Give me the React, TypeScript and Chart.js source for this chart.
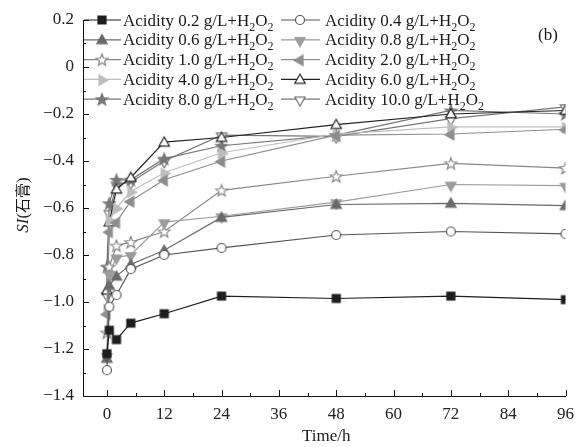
import React, { useEffect, useRef } from "react";
import { Chart, registerables } from "chart.js";

Chart.register(...registerables);

const timePoints = [0, 0.5, 2, 5, 12, 24, 48, 72, 96];
const xTickValues = [0, 12, 24, 36, 48, 60, 72, 84, 96];
const yTickValues = [0.2, 0, -0.2, -0.4, -0.6, -0.8, -1.0, -1.2, -1.4];

const acidity02 = [-1.22, -1.12, -1.16, -1.09, -1.05, -0.975, -0.985, -0.975, -0.99];
const acidity04 = [-1.29, -1.02, -0.97, -0.86, -0.8, -0.77, -0.715, -0.7, -0.71];
const acidity06 = [-1.24, -0.93, -0.89, -0.84, -0.78, -0.64, -0.585, -0.58, -0.59];
const acidity08 = [-1.23, -0.88, -0.81, -0.8, -0.66, -0.635, -0.575, -0.5, -0.505];
const acidity10 = [-1.13, -0.85, -0.76, -0.745, -0.7, -0.525, -0.465, -0.41, -0.43];
const acidity20 = [-1.05, -0.7, -0.66, -0.57, -0.48, -0.4, -0.29, -0.285, -0.265];
const acidity40 = [-1.03, -0.65, -0.6, -0.53, -0.45, -0.365, -0.285, -0.255, -0.255];
const acidity60 = [-0.95, -0.66, -0.52, -0.47, -0.32, -0.3, -0.245, -0.2, -0.185];
const acidity80 = [-0.85, -0.58, -0.48, -0.48, -0.39, -0.335, -0.29, -0.185, -0.2];
const acidity100 = [-0.97, -0.62, -0.5, -0.49, -0.4, -0.29, -0.295, -0.22, -0.17];

const seriesLabels = ["0.2", "0.4", "0.6", "0.8", "1.0", "2.0", "4.0", "6.0", "8.0", "10.0"];
const seriesValues = [acidity02, acidity04, acidity06, acidity08, acidity10, acidity20, acidity40, acidity60, acidity80, acidity100];

type Style = { kind: string; fill: string; stroke: string; line: string };
const seriesStyles: Style[] = [
  { kind: "square", fill: "#1e1e1e", stroke: "#1e1e1e", line: "#1e1e1e" },
  { kind: "circle", fill: "#ffffff", stroke: "#555555", line: "#555555" },
  { kind: "triUp", fill: "#6a6a6a", stroke: "#6a6a6a", line: "#6a6a6a" },
  { kind: "triDown", fill: "#9c9c9c", stroke: "#9c9c9c", line: "#9c9c9c" },
  { kind: "star", fill: "#ffffff", stroke: "#888888", line: "#888888" },
  { kind: "triLeft", fill: "#8e8e8e", stroke: "#8e8e8e", line: "#8e8e8e" },
  { kind: "triRight", fill: "#bdbdbd", stroke: "#bdbdbd", line: "#bdbdbd" },
  { kind: "triUp", fill: "#ffffff", stroke: "#222222", line: "#222222" },
  { kind: "star", fill: "#777777", stroke: "#777777", line: "#777777" },
  { kind: "triDown", fill: "#ffffff", stroke: "#777777", line: "#777777" },
];

const FONT = "'Liberation Serif', 'Times New Roman', serif";
const FS = 17;

function makeMarker(s: Style): HTMLCanvasElement {
  const S = 16;
  const c = document.createElement("canvas");
  c.width = S;
  c.height = S;
  const ctx = c.getContext("2d")!;
  const cx = S / 2;
  const cy = S / 2;
  ctx.fillStyle = s.fill;
  ctx.strokeStyle = s.stroke;
  ctx.lineWidth = 1.2;
  ctx.beginPath();
  if (s.kind === "square") {
    ctx.rect(cx - 4, cy - 4, 8, 8);
  } else if (s.kind === "circle") {
    ctx.arc(cx, cy, 4.5, 0, Math.PI * 2);
  } else if (s.kind.startsWith("tri")) {
    const rot = { triUp: 0, triRight: 90, triDown: 180, triLeft: 270 }[s.kind as "triUp"] as number;
    const r = 6;
    for (let k = 0; k < 3; k++) {
      const a = ((rot + k * 120 - 90) * Math.PI) / 180;
      const px = cx + r * Math.cos(a);
      const py = cy + 0.8 + r * Math.sin(a);
      if (k === 0) ctx.moveTo(px, py);
      else ctx.lineTo(px, py);
    }
    ctx.closePath();
  } else if (s.kind === "star") {
    const ro = 6.2;
    const ri = 2.6;
    for (let k = 0; k < 10; k++) {
      const r = k % 2 === 0 ? ro : ri;
      const a = ((k * 36 - 90) * Math.PI) / 180;
      const px = cx + r * Math.cos(a);
      const py = cy + 0.6 + r * Math.sin(a);
      if (k === 0) ctx.moveTo(px, py);
      else ctx.lineTo(px, py);
    }
    ctx.closePath();
  }
  ctx.fill();
  ctx.stroke();
  return c;
}

export default function App() {
  const ref = useRef<HTMLCanvasElement | null>(null);

  useEffect(() => {
    if (!ref.current) return;
    const markers = seriesStyles.map(makeMarker);

    const datasets = seriesValues.map((vals, i) => ({
      label: `Acidity ${seriesLabels[i]} g/L+H2O2`,
      data: vals.map((v, j) => ({ x: timePoints[j], y: v })),
      borderColor: seriesStyles[i].line,
      borderWidth: 1.2,
      pointStyle: markers[i],
      pointRadius: 5,
      pointHoverRadius: 5,
      fill: false,
      tension: 0,
    }));

    const decor = {
      id: "decor",
      afterDraw(chart: any) {
        const ctx = chart.ctx as CanvasRenderingContext2D;
        const xs = chart.scales.x;
        const ys = chart.scales.y;
        const area = chart.chartArea;
        ctx.save();
        ctx.strokeStyle = "#111";
        ctx.lineWidth = 1;
        for (let v = 0; v <= 96; v += 6) {
          const px = Math.round(xs.getPixelForValue(v)) + 0.5;
          const len = v % 12 === 0 ? 6 : 3;
          ctx.beginPath();
          ctx.moveTo(px, area.bottom);
          ctx.lineTo(px, area.bottom - len);
          ctx.stroke();
        }
        for (let k = -14; k <= 2; k++) {
          const v = k / 10;
          const py = Math.round(ys.getPixelForValue(v)) + 0.5;
          const len = k % 2 === 0 ? 6 : 3;
          ctx.beginPath();
          ctx.moveTo(area.left, py);
          ctx.lineTo(area.left + len, py);
          ctx.stroke();
        }
        const rowY0 = 20;
        const rowH = 19.8;
        const cols = [
          { l0: 84, l1: 121, m: 102, t: 123 },
          { l0: 281, l1: 320, m: 300, t: 325 },
        ];
        seriesValues.forEach((_, i) => {
          const col = cols[i % 2];
          const y = rowY0 + Math.floor(i / 2) * rowH;
          ctx.strokeStyle = seriesStyles[i].line;
          ctx.lineWidth = 1.2;
          ctx.beginPath();
          ctx.moveTo(col.l0, y);
          ctx.lineTo(col.l1, y);
          ctx.stroke();
          ctx.drawImage(markers[i], col.m - 8, y - 8);
          ctx.fillStyle = "#1a1a1a";
          ctx.textBaseline = "alphabetic";
          ctx.textAlign = "left";
          let x = col.t;
          const base = y + 5.5;
          ctx.font = `${FS}px ${FONT}`;
          const main = `Acidity ${seriesLabels[i]} g/L+H`;
          ctx.fillText(main, x, base);
          x += ctx.measureText(main).width;
          ctx.font = `12px ${FONT}`;
          ctx.fillText("2", x, base + 5);
          x += ctx.measureText("2").width;
          ctx.font = `${FS}px ${FONT}`;
          ctx.fillText("O", x, base);
          x += ctx.measureText("O").width;
          ctx.font = `12px ${FONT}`;
          ctx.fillText("2", x, base + 5);
        });
        ctx.font = `${FS}px ${FONT}`;
        ctx.fillStyle = "#1a1a1a";
        ctx.textAlign = "center";
        ctx.fillText("(b)", 548, 40);
        ctx.fillText("Time/h", (area.left + area.right) / 2 + 2, 441);
        ctx.save();
        ctx.translate(28, 205);
        ctx.rotate(-Math.PI / 2);
        ctx.textAlign = "left";
        ctx.font = `italic ${FS}px ${FONT}`;
        const w1 = ctx.measureText("SI").width;
        ctx.font = `${FS}px ${FONT}`;
        const w2 = ctx.measureText("(").width;
        ctx.font = `15px 'Noto Sans CJK SC', sans-serif`;
        const w3 = ctx.measureText("石膏").width;
        ctx.font = `${FS}px ${FONT}`;
        const w4 = ctx.measureText(")").width;
        let tx = -(w1 + w2 + w3 + w4) / 2;
        ctx.font = `italic ${FS}px ${FONT}`;
        ctx.fillText("SI", tx, 0);
        tx += w1;
        ctx.font = `${FS}px ${FONT}`;
        ctx.fillText("(", tx, 0);
        tx += w2;
        ctx.font = `15px 'Noto Sans CJK SC', sans-serif`;
        ctx.fillText("石膏", tx, 0);
        tx += w3;
        ctx.font = `${FS}px ${FONT}`;
        ctx.fillText(")", tx, 0);
        ctx.restore();
        ctx.restore();
      },
    };

    const chart = new Chart(ref.current, {
      type: "line",
      data: { datasets },
      options: {
        responsive: false,
        animation: false,
        events: [],
        layout: { padding: { top: 20, right: 15, left: 0, bottom: 0 } },
        plugins: { legend: { display: false }, tooltip: { enabled: false } },
        scales: {
          x: {
            type: "linear",
            min: -5,
            max: 96,
            grid: { display: false, drawTicks: false },
            border: { display: true, color: "#111", width: 1 },
            afterBuildTicks: (s: any) => {
              s.ticks = xTickValues.map((v) => ({ value: v }));
            },
            afterFit: (s: any) => {
              s.height = 51;
            },
            ticks: {
              autoSkip: false,
              maxRotation: 0,
              padding: 8,
              color: "#222",
              font: { family: FONT, size: FS },
              callback: (v: any) => String(v),
            },
          },
          y: {
            type: "linear",
            min: -1.4,
            max: 0.2,
            grid: { display: false, drawTicks: false },
            border: { display: true, color: "#111", width: 1 },
            afterBuildTicks: (s: any) => {
              s.ticks = yTickValues.map((v) => ({ value: v }));
            },
            afterFit: (s: any) => {
              s.width = 83;
            },
            ticks: {
              autoSkip: false,
              padding: 9,
              color: "#222",
              font: { family: FONT, size: FS },
              callback: (v: any) => {
                const n = Number(v);
                if (Math.abs(n) < 1e-9) return "0";
                return n < 0 ? "\u2212" + Math.abs(n).toFixed(1) : n.toFixed(1);
              },
            },
          },
        },
      },
      plugins: [decor],
    } as any);

    return () => chart.destroy();
  }, []);

  return (
    <div style={{ position: "absolute", left: 0, top: 0, width: 582, height: 447, background: "#fff" }}>
      <canvas ref={ref} width={582} height={447} style={{ display: "block" }} />
    </div>
  );
}
